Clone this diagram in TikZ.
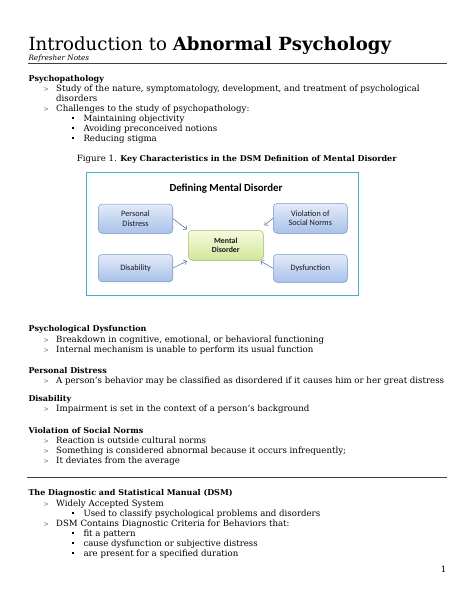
\documentclass[tikz,border=0pt]{standalone}
\usepackage{fontspec}
\setmainfont{DejaVu Serif}
\newfontfamily\calib{Carlito}
\usetikzlibrary{arrows.meta,shadows}
\definecolor{framec}{HTML}{4BACC6}
\definecolor{bluetop}{HTML}{E3EBF8}
\definecolor{bluebot}{HTML}{A9C1EA}
\definecolor{bluebd}{HTML}{7B9AD0}
\definecolor{greentop}{HTML}{F5FADF}
\definecolor{greenbot}{HTML}{D3E69A}
\definecolor{greenbd}{HTML}{A8C463}
\definecolor{arrowc}{HTML}{5B7BA8}
\definecolor{rulec}{HTML}{404040}
\newcommand\bodysize{\fontsize{8.6}{10}\selectfont}
\newcommand\headsize{\fontsize{8.0}{10}\selectfont}
\begin{document}
\begin{tikzpicture}[x=1pt,y=-1pt,
  body/.style={anchor=base west, inner sep=0, font=\bodysize},
  head/.style={anchor=base west, inner sep=0, font=\headsize\bfseries},
  gtm/.style={anchor=base west, inner sep=0, font=\fontsize{6.5}{7}\selectfont, text=black!60},
  sqm/.style={rectangle, fill=black, inner sep=0, minimum size=2pt},
  bluebox/.style={rectangle, rounded corners=4pt, draw=bluebd, line width=0.5pt, top color=bluetop, bottom color=bluebot, align=center, text=black!90, font=\calib\fontsize{8.2}{9.5}\selectfont, drop shadow={shadow xshift=0.7pt, shadow yshift=-0.7pt, opacity=0.25}},
  greenbox/.style={bluebox, draw=greenbd, top color=greentop, bottom color=greenbot, font=\calib\bfseries\fontsize{7.8}{9.5}\selectfont},
  conn/.style={draw=arrowc, line width=0.6pt, -{Straight Barb[length=2.5pt,width=5pt]}, shorten >=1.2pt},
  hrule/.style={draw=rulec, line width=0.9pt}
]
\useasboundingbox (0,0) rectangle (474,613);
\fill[white] (0,0) rectangle (474,613);

% Title block
\node[anchor=base west, inner sep=0, font=\fontsize{18.1}{21}\selectfont] (title) at (28.3,50) {Introduction to \textbf{Abnormal Psychology}};
\node[anchor=base west, inner sep=0, font=\fontsize{7.3}{8}\selectfont\itshape] (sub) at (28.3,60.5) {Refresher Notes};
\coordinate (r1a) at (28,63);
\coordinate (r1b) at (446.7,63);
\draw[hrule] (r1a) -- (r1b);

% Psychopathology
\node[head] (h1) at (28.3,81) {Psychopathology};
\node[gtm] (g1) at (43.3,91) {>};
\node[body] (l1) at (56,91) {Study of the nature, symptomatology, development, and treatment of psychological};
\node[body] (l1b) at (56,101) {disorders};
\node[gtm] (g2) at (43.3,111) {>};
\node[body] (l2) at (56,111) {Challenges to the study of psychopathology:};
\node[sqm] (s1) at (72.8,118.3) {};
\node[body] (l3) at (83.3,121) {Maintaining objectivity};
\node[sqm] (s2) at (72.8,128.3) {};
\node[body] (l4) at (83.3,131) {Avoiding preconceived notions};
\node[sqm] (s3) at (72.8,138.3) {};
\node[body] (l5) at (83.3,141) {Reducing stigma};

\node[anchor=base, inner sep=0, font=\bodysize] (cap) at (236.7,161.7) {Figure 1. {\headsize\bfseries Key Characteristics in the DSM Definition of Mental Disorder}};

% Diagram
\node[draw=framec, line width=1.3pt, fill=white, minimum width=271.6pt, minimum height=123.4pt, inner sep=0] (frame) at (222.5,234) {};
\node[anchor=base, inner sep=0, font=\calib\bfseries\fontsize{10.8}{12}\selectfont] (dtitle) at (226,191) {Defining Mental Disorder};
\node[bluebox, minimum width=74.4pt, minimum height=29.3pt] (pd) at (135.5,218.7) {Personal\\Distress};
\node[bluebox, minimum width=74.4pt, minimum height=27.4pt] (dis) at (135.5,268) {Disability};
\node[bluebox, minimum width=74pt, minimum height=30pt] (vsn) at (310.3,218.3) {Violation of\\Social Norms};
\node[bluebox, minimum width=74pt, minimum height=28pt] (dys) at (310.3,268.3) {Dysfunction};
\node[greenbox, minimum width=75pt, minimum height=30pt] (md) at (225.8,245.3) {Mental\\Disorder};
\draw[conn] (pd.east) -- (md.north west);
\draw[conn] (dis.east) -- (md.south west);
\draw[conn] (vsn.west) -- ([yshift=4pt]md.north east);
\draw[conn] (dys.west) -- ([xshift=-4pt]md.south east);

% Psychological Dysfunction
\node[head] (h2) at (28.3,331.7) {Psychological Dysfunction};
\node[gtm] (g3) at (43.3,342.7) {>};
\node[body] (l6) at (56,342.7) {Breakdown in cognitive, emotional, or behavioral functioning};
\node[gtm] (g4) at (43.3,352.7) {>};
\node[body] (l7) at (56,352.7) {Internal mechanism is unable to perform its usual function};

\node[head] (h3) at (28.3,373.3) {Personal Distress};
\node[gtm] (g5) at (43.3,383.3) {>};
\node[body] (l8) at (56,383.3) {A person’s behavior may be classified as disordered if it causes him or her great distress};

\node[head] (h4) at (28.3,401.7) {Disability};
\node[gtm] (g6) at (43.3,411.7) {>};
\node[body] (l9) at (56,411.7) {Impairment is set in the context of a person’s background};

\node[head] (h5) at (28.3,433.3) {Violation of Social Norms};
\node[gtm] (g7) at (43.3,443.3) {>};
\node[body] (l10) at (56,443.3) {Reaction is outside cultural norms};
\node[gtm] (g8) at (43.3,453.3) {>};
\node[body] (l11) at (56,453.3) {Something is considered abnormal because it occurs infrequently;};
\node[gtm] (g9) at (43.3,463.3) {>};
\node[body] (l12) at (56,463.3) {It deviates from the average};

\coordinate (r2a) at (27,477.3);
\coordinate (r2b) at (446.7,477.3);
\draw[hrule] (r2a) -- (r2b);

\node[head] (h6) at (28.3,495.7) {The Diagnostic and Statistical Manual (DSM)};
\node[gtm] (g10) at (43.3,506) {>};
\node[body] (l13) at (56,506) {Widely Accepted System};
\node[sqm] (s4) at (72.8,513.3) {};
\node[body] (l14) at (83.3,516) {Used to classify psychological problems and disorders};
\node[gtm] (g11) at (43.3,526) {>};
\node[body] (l15) at (56,526) {DSM Contains Diagnostic Criteria for Behaviors that:};
\node[sqm] (s5) at (72.8,533.3) {};
\node[body] (l16) at (83.3,536) {fit a pattern};
\node[sqm] (s6) at (72.8,543.3) {};
\node[body] (l17) at (83.3,546) {cause dysfunction or subjective distress};
\node[sqm] (s7) at (72.8,553.3) {};
\node[body] (l18) at (83.3,556) {are present for a specified duration};

\node[anchor=base east, inner sep=0, font=\bodysize] (pg) at (446.5,572.7) {1};
\end{tikzpicture}
\end{document}
